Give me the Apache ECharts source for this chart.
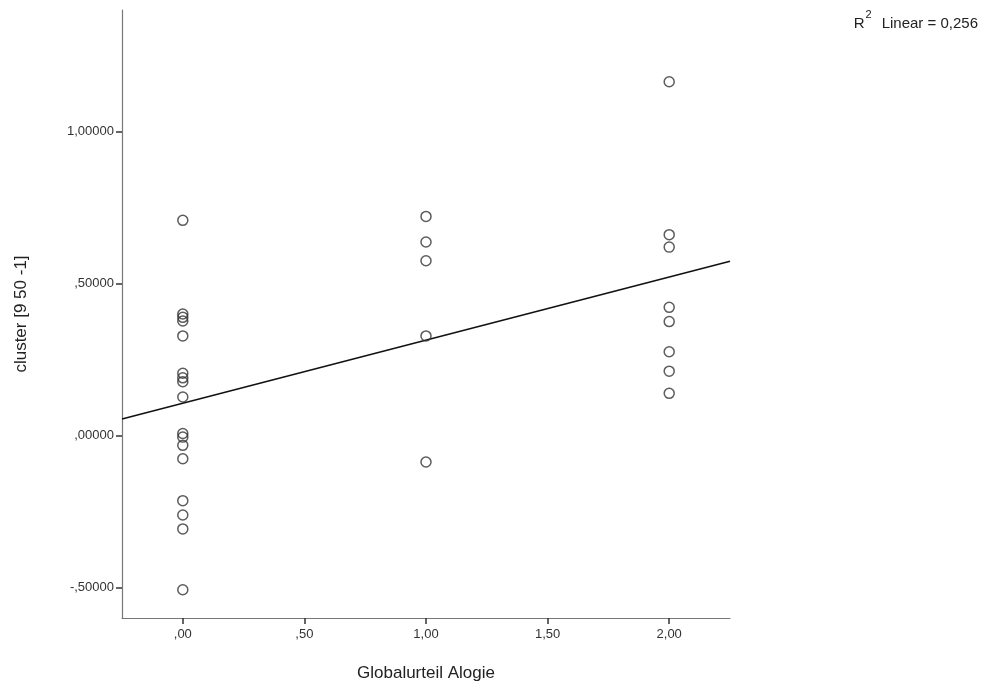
<!DOCTYPE html>
<html>
<head>
<meta charset="utf-8">
<script src="https://cdn.jsdelivr.net/npm/echarts@6/dist/echarts.min.js"></script>
<style>html,body{margin:0;padding:0;background:#fff;}#c{width:982px;height:688px;}</style>
</head>
<body>
<div id="c"></div>
<script>
// Data
const xGroup0 = 0;
const yGroup0 = [0.708, 0.400, 0.389, 0.377, 0.328, 0.205, 0.190, 0.177, 0.127, 0.007, -0.005, -0.032, -0.076, -0.214, -0.261, -0.307, -0.507];
const xGroup1 = 1;
const yGroup1 = [0.721, 0.637, 0.575, 0.328, -0.087];
const xGroup2 = 2;
const yGroup2 = [1.164, 0.661, 0.620, 0.422, 0.375, 0.276, 0.212, 0.139];
const xTicks = [0, 0.5, 1, 1.5, 2];
const yTicks = [-0.5, 0, 0.5, 1];
const xRange = [-0.25, 2.25];
const yRange = [-0.6, 1.4];
const r2Text = '0,256';

const points = [];
yGroup0.forEach(v => points.push([xGroup0, v]));
yGroup1.forEach(v => points.push([xGroup1, v]));
yGroup2.forEach(v => points.push([xGroup2, v]));

// least-squares fit line
const n = points.length;
const mx = points.reduce((s, p) => s + p[0], 0) / n;
const my = points.reduce((s, p) => s + p[1], 0) / n;
let sxy = 0, sxx = 0;
points.forEach(p => { sxy += (p[0] - mx) * (p[1] - my); sxx += (p[0] - mx) * (p[0] - mx); });
const slope = sxy / sxx;
const icpt = my - slope * mx;
const fitLine = xRange.map(x => [x, icpt + slope * x]);

function fmt(v, d) {
  let s = Math.abs(v).toFixed(d).replace('.', ',');
  if (s.startsWith('0,')) s = s.slice(1);
  return (v < 0 ? '-' : '') + s;
}

const FONT = '"Liberation Sans", Arial, Helvetica, sans-serif';
const chart = echarts.init(document.getElementById('c'), null, {renderer: 'canvas'});
chart.setOption({
  animation: false,
  backgroundColor: '#ffffff',
  grid: {left: 122, top: 10, right: 252, bottom: 70, containLabel: false},
  xAxis: {
    type: 'value', min: xRange[0], max: xRange[1],
    name: 'Globalurteil Alogie', nameLocation: 'middle', nameGap: 47,
    nameTextStyle: {fontFamily: FONT, fontSize: 17, color: '#222'},
    axisLine: {show: true, onZero: false, lineStyle: {color: '#777', width: 1.2}},
    axisTick: {show: true, inside: false, length: 6, customValues: xTicks, lineStyle: {color: '#333', width: 1.5}},
    axisLabel: {customValues: xTicks, formatter: v => fmt(v, 2), fontFamily: FONT, fontSize: 13, color: '#333', margin: 10},
    splitLine: {show: false}
  },
  yAxis: {
    type: 'value', min: yRange[0], max: yRange[1],
    name: 'cluster [9 50 -1]', nameLocation: 'middle', nameGap: 92, nameRotate: 90,
    nameTextStyle: {fontFamily: FONT, fontSize: 17, color: '#222'},
    axisLine: {show: true, onZero: false, lineStyle: {color: '#777', width: 1.2}},
    axisTick: {show: true, inside: false, length: 6, customValues: yTicks, lineStyle: {color: '#333', width: 1.5}},
    axisLabel: {customValues: yTicks, formatter: v => fmt(v, 5), fontFamily: FONT, fontSize: 13, color: '#333', margin: 8},
    splitLine: {show: false}
  },
  series: [
    {
      type: 'line', data: fitLine, symbol: 'none', silent: true,
      lineStyle: {color: '#111', width: 1.6}, z: 1
    },
    {
      type: 'scatter', data: points, symbol: 'circle', symbolSize: 10,
      itemStyle: {color: 'rgba(255,255,255,0)', borderColor: '#333', borderWidth: 1.5}, z: 2
    }
  ],
  graphic: [{
    type: 'text', right: 4, top: 9,
    style: {
      text: '{b|R}{s|2}{g|}{b|Linear = ' + r2Text + '}',
      rich: {
        b: {fontFamily: FONT, fontSize: 15, fill: '#222', color: '#222', verticalAlign: 'bottom', lineHeight: 22},
        s: {fontFamily: FONT, fontSize: 11, fill: '#222', color: '#222', verticalAlign: 'top', lineHeight: 22, padding: [0, 0, 9, 1]},
        g: {width: 10, lineHeight: 22}
      }
    }
  }]
});
</script>
</body>
</html>
